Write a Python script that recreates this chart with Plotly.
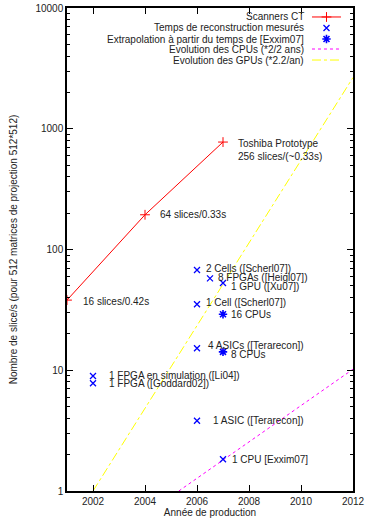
import math
import plotly.graph_objects as go

# ---------------- data ----------------
scan_year = [2001, 2004, 2007]
scan_rate = [38.1, 193.9, 775.8]
scan_labels = ["16 slices/0.42s", "64 slices/0.33s",
               "Toshiba Prototype<br>256 slices/(~0.33s)"]

meas_year = [2006, 2006.5, 2007, 2006, 2006, 2002, 2002, 2006, 2007]
meas_rate = [67.6, 57.7, 52.8, 35.2, 15.2, 8.96, 7.8, 3.82, 1.83]
meas_labels = ["2 Cells ([Scherl07])", "8 FPGAs ([Heigl07])", "1 GPU ([Xu07])",
               "1 Cell ([Scherl07])", "4 ASICs ([Terarecon])",
               "1 FPGA en simulation ([Li04])", "1 FPGA ([Goddard02])",
               "1 ASIC ([Terarecon])", "1 CPU [Exxim07]"]

extra_year = [2007, 2007]
extra_rate = [29.1, 14.2]
extra_labels = ["16 CPUs", "8 CPUs"]

cpu_year = [2005.3, 2012]
cpu_rate = [1.0, 10.2]
gpu_year = [2002, 2012]
gpu_rate = [1.0, 2656]

legend_names = ["Scanners CT", "Temps de reconstruction mesurés",
                "Extrapolation à partir du temps de [Exxim07]",
                "Evolution des CPUs (*2/2 ans)", "Evolution des GPUs (*2.2/an)"]

x_ticks = [2002, 2004, 2006, 2008, 2010, 2012]
y_ticks = [1, 10, 100, 1000, 10000]
y_minor = [m * d for d in (1, 10, 100, 1000) for m in range(2, 10)]

# ---------------- styling ----------------
FONT = "Liberation Sans, Arial, sans-serif"
FS = 10
TXT = "#222222"
RED = "#ff0000"
BLUE = "#0000ff"
MAG = "#ff00ff"
YEL = "#ffff00"

scan_off = [(14, -1), (13, 0), (13, -8)]
meas_off = [(7, 2), (6, 1), (6, -4), (7, 2), (9, 3), (14, 1), (14, 0), (14, 0), (7, 0)]
extra_off = [(6, 0), (6, -3)]

fig = go.Figure()

fig.add_trace(go.Scatter(x=cpu_year, y=cpu_rate, mode="lines",
                         line=dict(color=MAG, width=1, dash="dot"),
                         showlegend=False, hoverinfo="skip"))
fig.add_trace(go.Scatter(x=gpu_year, y=gpu_rate, mode="lines",
                         line=dict(color=YEL, width=1, dash="dashdot"),
                         showlegend=False, hoverinfo="skip"))
fig.add_trace(go.Scatter(x=scan_year, y=scan_rate, mode="lines+markers",
                         line=dict(color=RED, width=1),
                         marker=dict(symbol="cross-thin", size=7,
                                     line=dict(color=RED, width=1)),
                         showlegend=False))
fig.add_trace(go.Scatter(x=meas_year, y=meas_rate, mode="markers",
                         marker=dict(symbol="x-thin", size=6, color=BLUE,
                                     line=dict(color=BLUE, width=1.3)),
                         showlegend=False))
fig.add_trace(go.Scatter(x=extra_year, y=extra_rate, mode="markers",
                         marker=dict(symbol="asterisk", size=7, color=BLUE,
                                     line=dict(color=BLUE, width=1.6)),
                         showlegend=False))

annots = []
def lab(xs, ys, texts, offs):
    for x, y, t, (dx, dy) in zip(xs, ys, texts, offs):
        annots.append(dict(x=x, y=math.log10(y), xref="x", yref="y", text=t,
                           showarrow=False, xanchor="left", yanchor="middle",
                           xshift=dx, yshift=dy, align="left",
                           font=dict(family=FONT, size=FS, color=TXT)))

lab(scan_year, scan_rate, scan_labels, scan_off)
lab(meas_year, meas_rate, meas_labels, meas_off)
lab(extra_year, extra_rate, extra_labels, extra_off)

# manual legend (gnuplot style: text right, sample on the right)
leg_y = [0.9814, 0.9586, 0.9358, 0.9151, 0.8923]
leg_tx = 0.8357
s0, s1 = 0.8566, 0.958
sc = (s0 + s1) / 2
for name, yy in zip(legend_names, leg_y):
    annots.append(dict(x=leg_tx, y=yy, xref="paper", yref="paper", text=name,
                       showarrow=False, xanchor="right", yanchor="middle",
                       font=dict(family=FONT, size=FS, color=TXT)))

shapes = [
    dict(type="line", xref="paper", yref="paper", x0=s0, x1=s1,
         y0=leg_y[0], y1=leg_y[0], line=dict(color=RED, width=1)),
    dict(type="line", xref="paper", yref="paper", x0=s0, x1=s1,
         y0=leg_y[3], y1=leg_y[3], line=dict(color=MAG, width=1, dash="dot")),
    dict(type="line", xref="paper", yref="paper", x0=s0, x1=s1,
         y0=leg_y[4], y1=leg_y[4], line=dict(color=YEL, width=1, dash="dashdot")),
]

fig.add_trace(go.Scatter(x=[sc], y=[leg_y[0]], xaxis="x2", yaxis="y2", mode="markers",
                         marker=dict(symbol="cross-thin", size=7, line=dict(color=RED, width=1)),
                         showlegend=False, hoverinfo="skip"))
fig.add_trace(go.Scatter(x=[sc], y=[leg_y[1]], xaxis="x2", yaxis="y2", mode="markers",
                         marker=dict(symbol="x-thin", size=6, color=BLUE,
                                     line=dict(color=BLUE, width=1.3)),
                         showlegend=False, hoverinfo="skip"))
fig.add_trace(go.Scatter(x=[sc], y=[leg_y[2]], xaxis="x2", yaxis="y2", mode="markers",
                         marker=dict(symbol="asterisk", size=7, color=BLUE,
                                     line=dict(color=BLUE, width=1.6)),
                         showlegend=False, hoverinfo="skip"))

fig.update_layout(
    width=368, height=521,
    margin=dict(l=67, r=15, t=8, b=30, autoexpand=False),
    paper_bgcolor="white", plot_bgcolor="white",
    font=dict(family=FONT, size=FS, color=TXT),
    showlegend=False,
    annotations=annots, shapes=shapes,
    xaxis=dict(range=[2001, 2012], tickvals=x_ticks, ticks="inside", ticklen=6,
               tickcolor="black", showline=True, linecolor="black", linewidth=1.5,
               mirror="ticks", showgrid=False, zeroline=False, automargin=True,
               tickfont=dict(family=FONT, size=FS, color=TXT),
               title=dict(text="Année de production", standoff=3,
                          font=dict(family=FONT, size=FS, color=TXT))),
    yaxis=dict(type="log", range=[0, 4], tickvals=y_ticks, ticktext=[str(v) for v in y_ticks],
               ticks="inside", ticklen=6, tickcolor="black",
               showline=True, linecolor="black", linewidth=1.5, mirror="ticks",
               showgrid=False, zeroline=False, automargin=True,
               minor=dict(ticks="inside", ticklen=3, tickcolor="black",
                          tickvals=y_minor, showgrid=False),
               tickfont=dict(family=FONT, size=FS, color=TXT),
               title=dict(text="Nombre de slice/s (pour 512 matrices de projection 512*512)",
                          standoff=16, font=dict(family=FONT, size=FS, color=TXT))),
    xaxis2=dict(range=[0, 1], overlaying="x", visible=False, fixedrange=True),
    yaxis2=dict(range=[0, 1], overlaying="y", visible=False, fixedrange=True),
)

# remove the browser's default 8px body margin so the figure fills the window
fig.write_html("out.html", config={"displayModeBar": False},
               post_script="document.body.style.margin='0px';")
